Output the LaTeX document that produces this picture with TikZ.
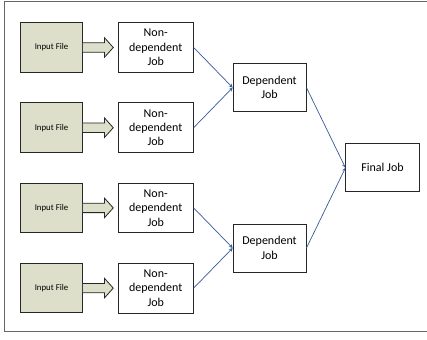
\documentclass[tikz,border=0pt]{standalone}
\usepackage{fontspec}
\setmainfont{Carlito}
\usetikzlibrary{positioning,calc}
\definecolor{filegreen}{RGB}{221,223,202}
\definecolor{linkblue}{RGB}{52,90,155}
\begin{document}
\begin{tikzpicture}[x=1pt,y=-1pt]

		\tikzstyle{file}=[rectangle,
			fill=filegreen,draw=black!85,line width=1.1pt,
			minimum height=49.6pt,minimum width=61.6pt,inner sep=1mm,
			align=center,font=\fontsize{8.8}{10}\selectfont]
		\tikzstyle{job}=[rectangle,
			fill=white,draw=black!85,line width=0.8pt,
			minimum height=49.6pt,minimum width=75pt,inner sep=1mm,
			align=center,font=\fontsize{12}{14.4}\selectfont]
		\tikzstyle{link}=[->,>=stealth,linkblue,line width=0.7pt]

		\useasboundingbox (0,0) rectangle (427,339);
		\draw[black!60,line width=0.9pt] (430,1) -- (4.3,1) -- (4.3,331.7) -- (430,331.7);

		\node[file]	(in1)	at (51.5,47.5)	{Input File};
		\node[file,below=29.5pt of in1]	(in2)	{Input File};
		\node[file,below=29.5pt of in2]	(in3)	{Input File};
		\node[file,below=29.5pt of in3]	(in4)	{Input File};

		\node[job,right=35pt of in1]	(nd1)	{Non-\\dependent\\Job};
		\node[job,right=35pt of in2]	(nd2)	{Non-\\dependent\\Job};
		\node[job,right=35pt of in3]	(nd3)	{Non-\\dependent\\Job};
		\node[job,right=35pt of in4]	(nd4)	{Non-\\dependent\\Job};

		\coordinate (m1) at ($(nd1.east)!0.5!(nd2.east)$);
		\coordinate (m2) at ($(nd3.east)!0.5!(nd4.east)$);
		\node[job,minimum width=73pt,minimum height=48pt,right=39pt of m1]	(dep1)	{Dependent\\Job};
		\node[job,minimum width=73pt,minimum height=48pt,right=39pt of m2]	(dep2)	{Dependent\\Job};

		\coordinate (m3) at ($(dep1.east)!0.5!(dep2.east)$);
		\node[job,minimum width=73.4pt,minimum height=48pt,right=39pt of m3]	(final)	{Final Job};

		% block arrows from the files
		\foreach \i in {1,...,4}
			\draw[fill=filegreen,draw=black!85,line width=0.8pt] (in\i.east) ++(0,-4.7) -- ++(21.7,0) -- ++(0,-5) -- ++(8.7,9.7) -- ++(-8.7,9.7) -- ++(0,-5) -- ++(-21.7,0);

		\draw[link] (nd1.east) -- (dep1.west);
		\draw[link] (nd2.east) -- (dep1.west);
		\draw[link] (nd3.east) -- (dep2.west);
		\draw[link] (nd4.east) -- (dep2.west);
		\draw[link] (dep1.east) -- (final.west);
		\draw[link] (dep2.east) -- (final.west);

	\end{tikzpicture}
\end{document}
